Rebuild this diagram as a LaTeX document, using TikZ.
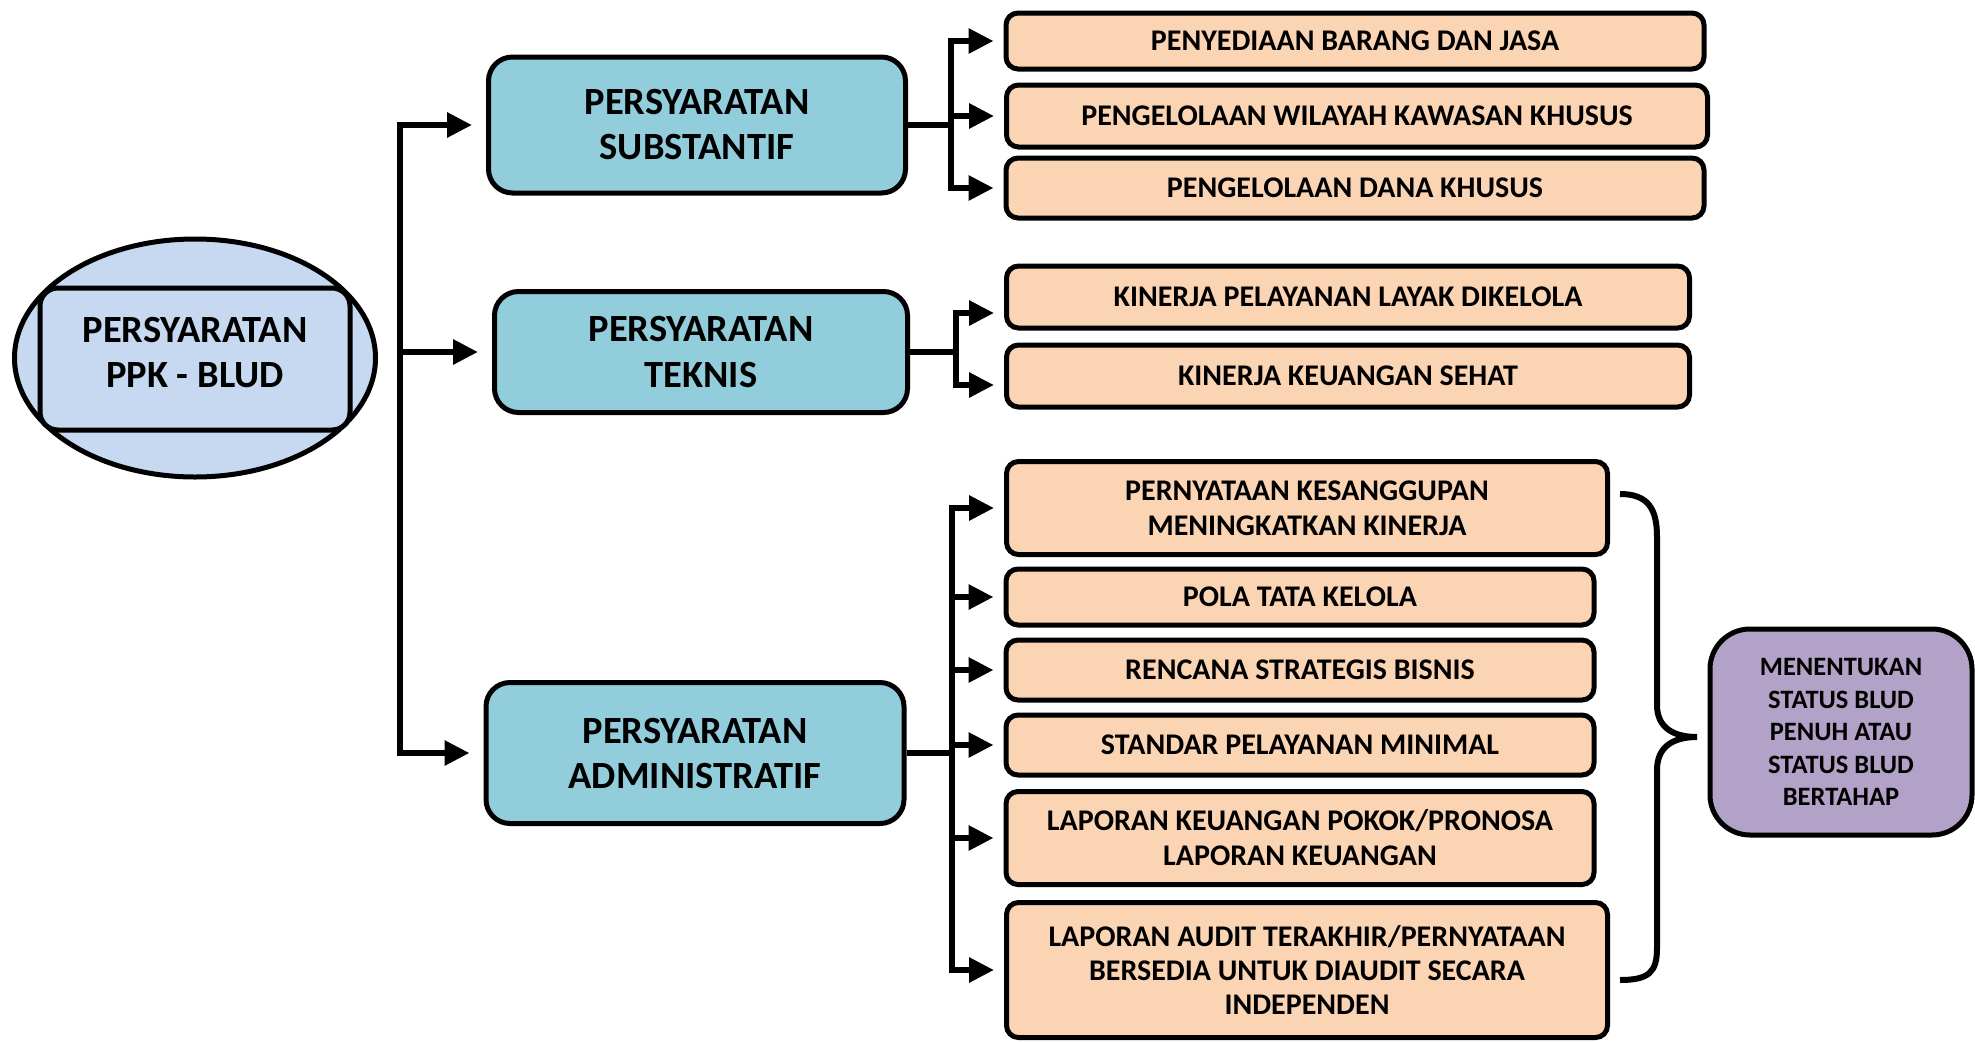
\documentclass[tikz,border=0pt]{standalone}
\usepackage{fontspec}
\setmainfont{Carlito}
\usetikzlibrary{arrows.meta,shapes.geometric}
\definecolor{peach}{HTML}{FBD4B4}
\definecolor{aqua}{HTML}{92CDDC}
\definecolor{lblue}{HTML}{C6D9F1}
\definecolor{lilac}{HTML}{B2A2C7}
\begin{document}
\begin{tikzpicture}[x=1pt,y=-1pt,
  peachbox/.style={draw=black, line width=5pt, rounded corners=12pt, fill=peach, align=center, inner sep=0pt, font=\fontsize{30}{35}\selectfont\bfseries},
  adminchild/.style={peachbox},
  mainbox/.style={draw=black, line width=5pt, rounded corners=24pt, fill=aqua, align=center, inner sep=0pt, font=\fontsize{38.5}{45}\selectfont\bfseries},
  conn/.style={line width=6pt},
  bar/.style={line width=6pt, line cap=rect},
  arr/.style={line width=6pt, -{Triangle[length=25pt,width=24pt]}}
]
\useasboundingbox (0,0) rectangle (1975,1042);

% root
\node[draw=black, ellipse, line width=5pt, fill=lblue, minimum width=361pt, minimum height=238pt, inner sep=0pt] (ell) at (195,358) {};
\node[draw=black, line width=5pt, rounded corners=18pt, fill=lblue, minimum width=310pt, minimum height=142pt, inner sep=0pt] (ppk) at (195,359) {};
\node[align=center, inner sep=0pt, font=\fontsize{38.5}{45}\selectfont\bfseries] (ppktext) at (195,353) {PERSYARATAN\\PPK - BLUD};

% level 1
\node[mainbox, minimum width=417pt, minimum height=136pt] (sub) at (697,125) {PERSYARATAN\\SUBSTANTIF};
\node[mainbox, minimum width=413pt, minimum height=121pt] (tek) at (701,352) {PERSYARATAN\\TEKNIS};
\node[mainbox, minimum width=418pt, minimum height=141pt] (adm) at (695,753) {PERSYARATAN\\ADMINISTRATIF};

% substantif children
\node[peachbox, minimum width=698pt, minimum height=56pt] (s1) at (1355,41) {PENYEDIAAN BARANG DAN JASA};
\node[peachbox, minimum width=701pt, minimum height=62pt] (s2) at (1357,116) {PENGELOLAAN WILAYAH KAWASAN KHUSUS};
\node[peachbox, minimum width=698pt, minimum height=60pt] (s3) at (1355,188) {PENGELOLAAN DANA KHUSUS};

% teknis children
\node[peachbox, minimum width=683pt, minimum height=62pt] (t1) at (1348,297) {KINERJA PELAYANAN LAYAK DIKELOLA};
\node[peachbox, minimum width=683pt, minimum height=62pt] (t2) at (1348,376) {KINERJA KEUANGAN SEHAT};

% administratif children
\node[adminchild, minimum width=601pt, minimum height=93pt] (a1) at (1307,508) {PERNYATAAN KESANGGUPAN\\MENINGKATKAN KINERJA};
\node[adminchild, minimum width=588pt, minimum height=56pt] (a2) at (1300,597) {POLA TATA KELOLA};
\node[adminchild, minimum width=588pt, minimum height=60pt] (a3) at (1300,670) {RENCANA STRATEGIS BISNIS};
\node[adminchild, minimum width=588pt, minimum height=60pt] (a4) at (1300,745) {STANDAR PELAYANAN MINIMAL};
\node[adminchild, minimum width=588pt, minimum height=93pt] (a5) at (1300,838) {LAPORAN KEUANGAN POKOK/PRONOSA\\LAPORAN KEUANGAN};
\node[adminchild, minimum width=601pt, minimum height=135pt, font=\fontsize{30}{34}\selectfont\bfseries] (a6) at (1307,970) {LAPORAN AUDIT TERAKHIR/PERNYATAAN\\BERSEDIA UNTUK DIAUDIT SECARA\\INDEPENDEN};

% result
\node[draw=black, line width=5pt, rounded corners=40pt, fill=lilac, minimum width=262pt, minimum height=206pt, inner sep=0pt, align=center, font=\fontsize{26.5}{32.5}\selectfont\bfseries] (res) at (1841,732) {MENENTUKAN\\STATUS BLUD\\PENUH ATAU\\STATUS BLUD\\BERTAHAP};

% trunk
\coordinate (trx) at (400,0);
\draw[bar] (sub.west -| trx) -- (adm.west -| trx);
\draw[arr] (sub.west -| trx) -- ([xshift=-14pt]sub.west);
\draw[arr] (tek.west -| trx) -- ([xshift=-14pt]tek.west);
\draw[arr] (adm.west -| trx) -- ([xshift=-14pt]adm.west);

% substantif branch
\coordinate (bs) at (951,0);
\draw[bar] (s1.west -| bs) -- (s3.west -| bs);
\draw[conn] (sub.east) -- (sub.east -| bs);
\foreach \n in {s1,s2,s3}{
  \draw[arr] (\n.west -| bs) -- ([xshift=-10pt]\n.west);
}

% teknis branch
\coordinate (bt) at (956,0);
\coordinate (bt1) at ([yshift=-16pt]t1.west -| bt);
\coordinate (bt2) at ([yshift=-9pt]t2.west -| bt);
\draw[bar] (bt1) -- (bt2);
\draw[conn] (tek.east) -- (tek.east -| bt);
\draw[arr] (bt1) -- ([xshift=-10pt,yshift=-16pt]t1.west);
\draw[arr] (bt2) -- ([xshift=-10pt,yshift=-9pt]t2.west);

% administratif branch
\coordinate (ba) at (952,0);
\draw[bar] (a1.west -| ba) -- (a6.west -| ba);
\draw[conn] (adm.east) -- (adm.east -| ba);
\foreach \n in {a1,a2,a3,a4,a5,a6}{
  \draw[arr] (\n.west -| ba) -- ([xshift=-10pt]\n.west);
}

% brace
\draw[conn] (1620,494) .. controls (1649,494) and (1657,510) .. (1657,537)
  -- (1657,705) .. controls (1657,728) and (1674,737) .. (1697,737)
  .. controls (1674,737) and (1657,746) .. (1657,770)
  -- (1657,948) .. controls (1657,972) and (1649,980) .. (1620,980);
\end{tikzpicture}
\end{document}
